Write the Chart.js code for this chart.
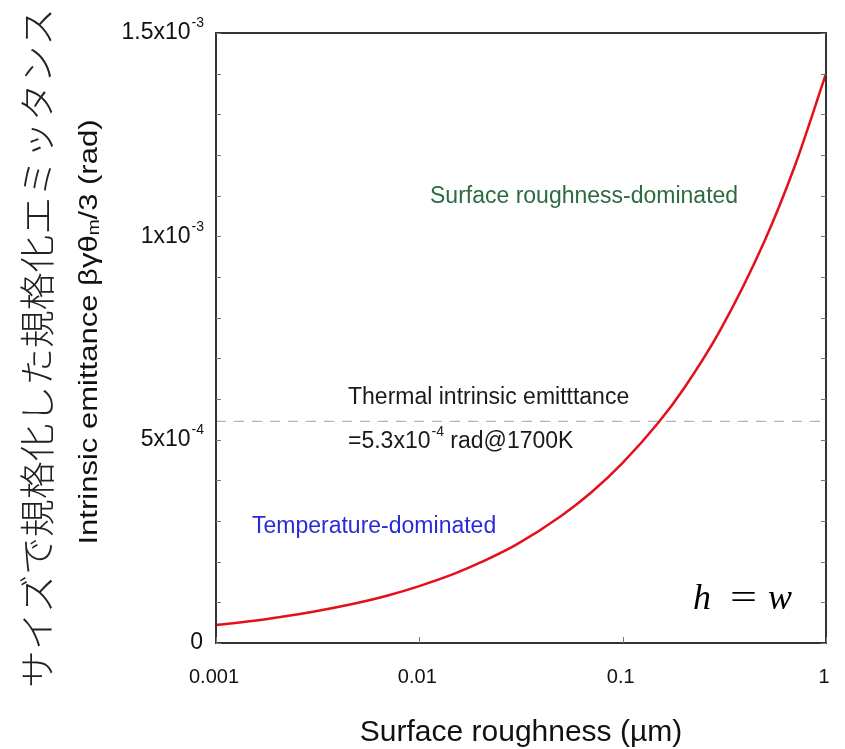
<!DOCTYPE html>
<html>
<head>
<meta charset="utf-8">
<script src="https://cdn.jsdelivr.net/npm/chart.js@4"></script>
<style>
  html, body { margin: 0; padding: 0; background: #fff; }
  canvas { display: block; }
</style>
</head>
<body>
<canvas id="chart" width="845" height="749"></canvas>
<script>
// --- data ---
const roughness = [0.001, 0.0015, 0.002, 0.003, 0.005, 0.007, 0.01, 0.015, 0.02, 0.03, 0.05, 0.07, 0.1, 0.15, 0.2, 0.3, 0.5, 0.7, 1];
const emittance = [4.4e-5, 5.4e-5, 6.3e-5, 7.7e-5, 9.9e-5, 1.17e-4, 1.40e-4, 1.71e-4, 1.98e-4, 2.42e-4, 3.13e-4, 3.70e-4, 4.43e-4, 5.42e-4, 6.26e-4, 7.67e-4, 9.9e-4, 1.171e-3, 1.40e-3];
const thermalLevel = 5.45e-4;

const xTicks = [0.001, 0.01, 0.1, 1];
const xTickLabels = ['0.001', '0.01', '0.1', '1'];
const yTicks = [0, 5e-4, 1e-3, 1.5e-3];
const yTickBase = ['0', '5x10', '1x10', '1.5x10'];
const yTickExp = ['', '-4', '-3', '-3'];
const yMinorStep = 1e-4;

const SANS = '"Liberation Sans", Arial, Helvetica, sans-serif';

// draw text with a small raised exponent; align 'left' or 'right'
function supText(ctx, base, exp, x, y, size, align) {
    ctx.font = size + 'px ' + SANS;
    const wb = ctx.measureText(base).width;
    ctx.font = Math.round(size * 0.62) + 'px ' + SANS;
    const we = exp ? ctx.measureText(exp).width : 0;
    const x0 = align === 'right' ? x - wb - we : x;
    ctx.textAlign = 'left';
    ctx.textBaseline = 'middle';
    ctx.font = size + 'px ' + SANS;
    ctx.fillText(base, x0, y);
    if (exp) {
        ctx.font = Math.round(size * 0.62) + 'px ' + SANS;
        ctx.fillText(exp, x0 + wb + 1, y - size * 0.42);
    }
    return x0 + wb + we + 1;
}

const decorations = {
    id: 'decorations',
    afterDraw(chart) {
        const ctx = chart.ctx;
        const a = chart.chartArea;
        const xs = chart.scales.x, ys = chart.scales.y;
        ctx.save();

        // frame
        ctx.strokeStyle = '#333';
        ctx.lineWidth = 2;
        ctx.strokeRect(a.left, a.top, a.right - a.left, a.bottom - a.top);

        // inward ticks
        ctx.lineWidth = 1;
        ctx.strokeStyle = '#777';
        for (let v = 0; v <= 1.5e-3 + 1e-9; v += yMinorStep) {
            const py = Math.round(ys.getPixelForValue(v)) + 0.5;
            ctx.beginPath();
            ctx.moveTo(a.left, py); ctx.lineTo(a.left + 5, py);
            ctx.moveTo(a.right, py); ctx.lineTo(a.right - 5, py);
            ctx.stroke();
        }
        xTicks.forEach(v => {
            const px = Math.round(xs.getPixelForValue(v)) + 0.5;
            ctx.beginPath();
            ctx.moveTo(px, a.bottom); ctx.lineTo(px, a.bottom - 6);
            ctx.stroke();
        });

        // tick labels
        ctx.fillStyle = '#111';
        yTicks.forEach((v, i) => {
            supText(ctx, yTickBase[i], yTickExp[i], a.left - 13, ys.getPixelForValue(v), 23, 'right');
        });
        ctx.font = '20px ' + SANS;
        ctx.textAlign = 'center';
        ctx.textBaseline = 'middle';
        xTicks.forEach((v, i) => {
            ctx.fillText(xTickLabels[i], xs.getPixelForValue(v) - 2, 677);
        });

        // x title
        ctx.font = '30px ' + SANS;
        ctx.fillText('Surface roughness (\u00b5m)', 521, 733);

        // y title (English), condensed
        ctx.save();
        ctx.translate(90, 332);
        ctx.rotate(-Math.PI / 2);
        const NARROW = '"Liberation Sans Narrow", ' + SANS;
        const parts = [['Intrinsic emittance \u03b2\u03b3\u03b8', 26, 0], ['m', 16, 5], ['/3 (rad)', 26, 0]];
        let total = 0;
        parts.forEach(p => { ctx.font = p[1] + 'px ' + NARROW; total += ctx.measureText(p[0]).width; });
        ctx.scale(425 / total, 1);
        let cx = -total / 2;
        ctx.textAlign = 'left';
        ctx.textBaseline = 'middle';
        parts.forEach(p => {
            ctx.font = p[1] + 'px ' + NARROW;
            ctx.fillText(p[0], cx, p[2]);
            cx += ctx.measureText(p[0]).width;
        });
        ctx.restore();

        // y title (Japanese)
        ctx.save();
        ctx.translate(37, 348);
        ctx.rotate(-Math.PI / 2);
        ctx.font = '300 36px "Noto Sans CJK JP", sans-serif';
        ctx.textAlign = 'center';
        ctx.textBaseline = 'middle';
        ctx.fillStyle = '#222';
        const jp = 'サイズで規格化した規格化エミッタンス';
        const jw = ctx.measureText(jp).width;
        ctx.scale(680 / jw, 1);
        ctx.fillText(jp, 0, 0);
        ctx.restore();

        // annotations
        ctx.textAlign = 'left';
        ctx.textBaseline = 'middle';
        ctx.font = '23px ' + SANS;
        ctx.fillStyle = '#2d6a40';
        ctx.fillText('Surface roughness-dominated', 430, 197);
        ctx.fillStyle = '#1a1a1a';
        ctx.fillText('Thermal intrinsic emitttance', 348, 398);
        const ex = supText(ctx, '=5.3x10', '-4', 348, 442, 23, 'left');
        ctx.font = '23px ' + SANS;
        ctx.fillText(' rad@1700K', ex, 442);
        ctx.fillStyle = '#2b2bd6';
        ctx.fillText('Temperature-dominated', 252, 527);

        // h = w
        ctx.fillStyle = '#000';
        ctx.font = 'italic 36px "Liberation Serif", serif';
        ctx.fillText('h', 693, 600);
        ctx.save();
        ctx.translate(730, 600);
        ctx.font = '36px "Liberation Serif", serif';
        ctx.scale(27 / ctx.measureText('=').width, 1);
        ctx.fillText('=', 0, 0);
        ctx.restore();
        ctx.font = 'italic 36px "Liberation Serif", serif';
        ctx.fillText('w', 768, 600);

        ctx.restore();
    }
};

new Chart(document.getElementById('chart'), {
    type: 'line',
    data: {
        datasets: [
            {
                data: roughness.map((r, i) => ({ x: r, y: emittance[i] })),
                borderColor: '#e3101c',
                borderWidth: 2.5,
                pointRadius: 0,
                cubicInterpolationMode: 'monotone',
                fill: false
            },
            {
                data: [{ x: 0.001, y: thermalLevel }, { x: 0.98, y: thermalLevel }],
                borderColor: '#b5b5b5',
                borderWidth: 1.2,
                borderDash: [10, 8],
                pointRadius: 0,
                fill: false
            }
        ]
    },
    options: {
        responsive: false,
        animation: false,
        devicePixelRatio: 1,
        layout: { padding: { left: 216, right: 19, top: 33, bottom: 106 } },
        plugins: { legend: { display: false }, tooltip: { enabled: false } },
        scales: {
            x: { type: 'logarithmic', min: 0.001, max: 1, display: false },
            y: { type: 'linear', min: 0, max: 1.5e-3, display: false }
        }
    },
    plugins: [decorations]
});
</script>
</body>
</html>
